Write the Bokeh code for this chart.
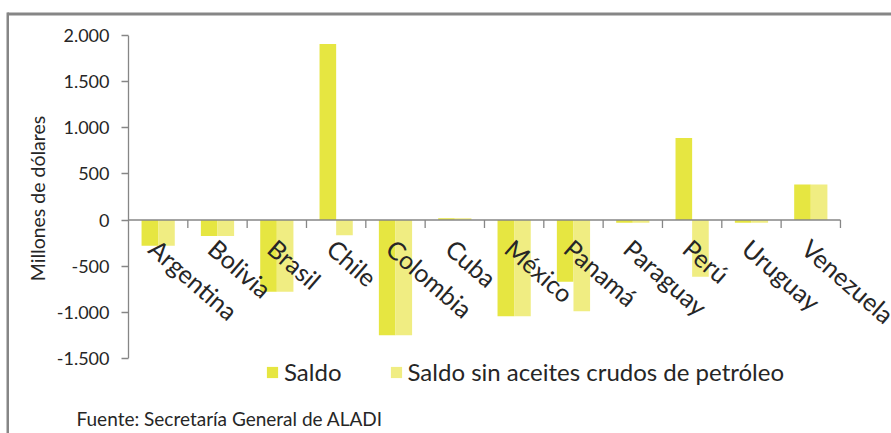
import numpy as np
from bokeh.plotting import figure
from bokeh.models import (Range1d, FixedTicker, ColumnDataSource, LabelSet, Label,
                          Legend, LegendItem, BoxAnnotation)
from bokeh.core.properties import value
from bokeh.embed import file_html
from bokeh.resources import INLINE

# ---- data ----
countries = ["Argentina", "Bolivia", "Brasil", "Chile", "Colombia", "Cuba",
             "México", "Panamá", "Paraguay", "Perú", "Uruguay", "Venezuela"]
saldo = [-280, -175, -780, 1910, -1250, 20, -1045, -670, -30, 890, -30, 385]
saldo_sin_crudo = [-280, -175, -780, -165, -1250, 20, -1045, -990, -30, -615, -30, 385]
series_names = ["Saldo", "Saldo sin aceites crudos de petróleo"]
y_ticks = [-1500, -1000, -500, 0, 500, 1000, 1500, 2000]
y_tick_labels = ["-1.500", "-1.000", "-500", "0", "500", "1.000", "1.500", "2.000"]
y_title = "Millones de dólares"
source_note = "Fuente: Secretaría General de ALADI"

# ---- style / layout (pixels) ----
C_SALDO = "#E6E641"
C_SIN = "#F0ED82"
GRAY = "#868686"
TXT = "#262626"
FONT = "Lato"
W, H = 891, 433
AXIS_X = 128          # pixel x of the value axis
ZERO_Y = 219.5        # pixel y of value 0
PPU = 46.05 / 500     # pixels per value unit
CAT_PX = 59.33        # pixels per category

n = len(countries)
centers = np.arange(n) + 0.5
bar_w = 0.28

src = ColumnDataSource(dict(
    x1=centers - bar_w / 2, x2=centers + bar_w / 2,
    saldo=saldo, sin=saldo_sin_crudo, cx=centers, name=countries))

p = figure(width=W, height=H, output_backend="svg", toolbar_location=None,
           x_range=Range1d(-AXIS_X / CAT_PX, (W - AXIS_X) / CAT_PX),
           y_range=Range1d(-(H - ZERO_Y) / PPU, ZERO_Y / PPU),
           x_axis_location=None, min_border=0)
p.outline_line_color = None
p.grid.visible = False
p.background_fill_color = "white"
p.border_fill_color = "white"

r1 = p.vbar(x="x1", top="saldo", bottom=0, width=bar_w, source=src,
            fill_color=C_SALDO, line_color=None)
r2 = p.vbar(x="x2", top="sin", bottom=0, width=bar_w, source=src,
            fill_color=C_SIN, line_color=None)

# value axis line, zero line and category ticks
p.segment(x0=[0], y0=[y_ticks[0]], x1=[0], y1=[y_ticks[-1]], line_color=GRAY, line_width=1.3)
p.segment(x0=[0], y0=[0], x1=[n], y1=[0], line_color=GRAY, line_width=1.3)
tick_len = 8 / PPU
bounds = np.arange(1, n + 1)
p.segment(x0=bounds, y0=np.zeros(n), x1=bounds, y1=np.zeros(n) - tick_len,
          line_color=GRAY, line_width=1.3)

# y axis (drawn at x = 0 inside the plot area)
ax = p.yaxis[0]
ax.fixed_location = 0
ax.ticker = FixedTicker(ticks=y_ticks)
ax.major_label_overrides = {t: l for t, l in zip(y_ticks, y_tick_labels)}
ax.minor_tick_line_color = None
ax.axis_line_color = None
ax.major_tick_in = 0
ax.major_tick_out = 7
ax.major_tick_line_color = GRAY
ax.major_tick_line_width = 1.3
ax.major_label_text_font = FONT
ax.major_label_text_font_size = "18px"
ax.major_label_text_color = TXT
ax.major_label_standoff = 12

# y title
p.add_layout(Label(x=36.5, y=198, x_units="canvas", y_units="canvas", text=y_title,
                   angle=90, angle_units="deg", text_align="center", text_baseline="middle",
                   text_font=FONT, text_font_size="19.5px", text_color=TXT))

# category labels
labels = LabelSet(x="cx", y=0, text="name", source=src, angle=-41, angle_units="deg",
                  x_offset=5, y_offset=-13, text_align="left", text_baseline="top",
                  text_font=value(FONT), text_font_size="25px", text_color=TXT)
p.add_layout(labels)

# legend
legend = Legend(items=[LegendItem(label=series_names[0], renderers=[r1]),
                       LegendItem(label=series_names[1], renderers=[r2])],
                orientation="horizontal", location=(265, 47), padding=0, margin=0,
                spacing=47, label_standoff=5, glyph_width=14, glyph_height=14,
                label_text_font=FONT, label_text_font_size="24px", label_text_color=TXT,
                border_line_alpha=0, background_fill_alpha=0)
p.add_layout(legend, "center")

# source note
p.add_layout(Label(x=76, y=418, x_units="canvas", y_units="canvas", text=source_note,
                   text_align="left", text_baseline="alphabetic",
                   text_font=FONT, text_font_size="19px", text_color=TXT))

# chart border (top and left edges)
p.add_layout(BoxAnnotation(left=7, right=W, top=12, bottom=15, left_units="canvas",
                           right_units="canvas", top_units="canvas", bottom_units="canvas",
                           fill_color=GRAY, fill_alpha=1, line_alpha=0))
p.add_layout(BoxAnnotation(left=6, right=8.5, top=12, bottom=H, left_units="canvas",
                           right_units="canvas", top_units="canvas", bottom_units="canvas",
                           fill_color=GRAY, fill_alpha=1, line_alpha=0))

open("out.html", "w").write(file_html(p, INLINE))
